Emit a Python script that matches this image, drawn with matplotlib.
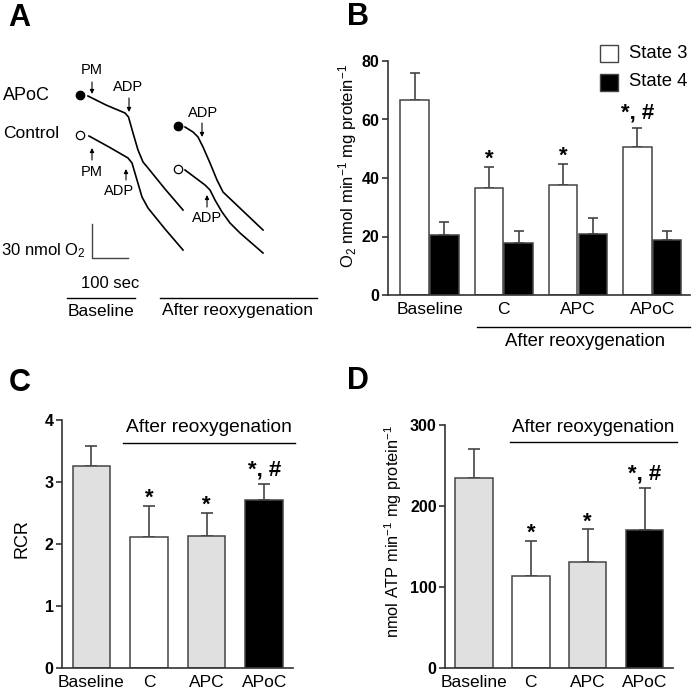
import numpy as np
import matplotlib
matplotlib.use('Agg')
import matplotlib.pyplot as plt
from matplotlib.patches import Rectangle

plt.rcParams['font.family'] = ['Liberation Sans', 'DejaVu Sans']
plt.rcParams['mathtext.fontset'] = 'custom'
plt.rcParams['mathtext.rm'] = 'Liberation Sans'
plt.rcParams['mathtext.it'] = 'Liberation Sans:italic'

W, H = 693, 699

# ---- data ----
groups = ['Baseline', 'C', 'APC', 'APoC']

# B: O2 consumption
state3 = [66.5, 36.7, 37.5, 50.7]
state3_err = [9.3, 7.2, 7.2, 6.5]
state4 = [20.5, 17.9, 20.7, 18.8]
state4_err = [4.6, 4.0, 5.5, 3.1]
sig_B = ['', '*', '*', '*, #']

# C: RCR
rcr = [3.26, 2.11, 2.13, 2.71]
rcr_err = [0.32, 0.50, 0.37, 0.25]

# D: ATP production
atp = [234, 113, 131, 170]
atp_err = [36, 44, 40, 52]
sig_CD = ['', '*', '*', '*, #']
colors_CD = ['#e0e0e0', 'white', '#e0e0e0', 'black']

# A: oxygraph traces (x = time, y = O2 downwards, plot units)
apoc_base_x = [88, 106, 125, 128.5, 133, 138, 143, 148, 165, 183]
apoc_base_y = [96, 105, 113, 117, 133, 150, 162, 168, 189, 210]
ctrl_base_x = [89, 109, 128, 132, 137, 142, 148, 165, 183]
ctrl_base_y = [136, 147, 158, 163, 180, 197, 208, 229, 250]
apoc_reox_x = [185, 193, 198, 203, 210, 217, 223, 243, 263]
apoc_reox_y = [127, 132, 137, 147, 163, 180, 192, 211, 230]
ctrl_reox_x = [185, 205, 210, 215, 222, 230, 240, 263]
ctrl_reox_y = [170, 185, 190, 200, 212, 223, 233, 253]


def px_axes(l, t, r, b):
    return fig.add_axes([l / W, 1 - b / H, (r - l) / W, (b - t) / H])


def style_axes(ax):
    for s in ['top', 'right']:
        ax.spines[s].set_visible(False)
    for s in ['left', 'bottom']:
        ax.spines[s].set_linewidth(1.2)
        ax.spines[s].set_color('#333333')
    ax.tick_params(axis='y', length=4, width=1.2, color='#333333', labelsize=11.5, pad=2)
    ax.tick_params(axis='x', length=0, labelsize=12.5, pad=5)
    for t in ax.get_yticklabels():
        t.set_fontweight('bold')


def add_sig(ax, xs, tops, labels):
    for x, t, s in zip(xs, tops, labels):
        if s:
            off = 10.5 if '#' in s else 5.5
            ax.annotate(s, (x, t), xytext=(0, off), textcoords='offset points',
                        ha='center', va='center', fontsize=16, fontweight='bold')


fig = plt.figure(figsize=(W / 100, H / 100), dpi=100)

# ---- panel A ----
axA = px_axes(0, 0, 345, 330)
axA.set_xlim(0, 345)
axA.set_ylim(330, 0)
axA.axis('off')
for xs, ys in [(apoc_base_x, apoc_base_y), (ctrl_base_x, ctrl_base_y),
               (apoc_reox_x, apoc_reox_y), (ctrl_reox_x, ctrl_reox_y)]:
    axA.plot(xs, ys, color='black', lw=1.2)
axA.plot([80, 178], [95, 126], 'o', color='black', ms=6)
axA.plot([80, 178], [135, 169], 'o', mfc='white', mec='black', mew=0.9, ms=6)
axA.text(3, 95, 'APoC', ha='left', va='center', fontsize=13)
axA.text(3, 133, 'Control', ha='left', va='center', fontsize=12.5)

arrows = [(92, 82, 94, 'PM', 92, 70), (129, 98, 112, 'ADP', 128, 87),
          (92, 160, 148, 'PM', 92, 172), (126, 180, 169, 'ADP', 119, 191),
          (202, 123, 137, 'ADP', 203, 113), (207, 207, 195, 'ADP', 207, 218)]
for x, tail, tip, lab, lx, ly in arrows:
    axA.annotate('', xy=(x, tip), xytext=(x, tail),
                 arrowprops=dict(arrowstyle='-|>', lw=0.8, color='black',
                                 mutation_scale=6, shrinkA=0, shrinkB=0))
    axA.text(lx, ly, lab, ha='center', va='center', fontsize=10.5)

# scale bar
axA.plot([92, 92, 128], [224, 258, 258], color='#444444', lw=1)
axA.text(86, 251, '30 nmol O$_2$', ha='right', va='center', fontsize=12)
axA.text(110, 283, '100 sec', ha='center', va='center', fontsize=12)
axA.plot([67, 135], [298, 298], color='black', lw=1)
axA.text(101, 311, 'Baseline', ha='center', va='center', fontsize=12.5)
axA.plot([160, 317], [298, 298], color='black', lw=1)
axA.text(238, 311, 'After reoxygenation', ha='center', va='center', fontsize=12.5)

# ---- panel B ----
axB = px_axes(388, 61, 690, 295)
x = np.arange(len(groups))
w = 0.385
axB.errorbar(x - 0.2, state3, yerr=[np.zeros(4), state3_err], fmt='none',
             ecolor='#444444', elinewidth=1.2, capsize=3.5, capthick=1.2, zorder=1)
axB.errorbar(x + 0.2, state4, yerr=[np.zeros(4), state4_err], fmt='none',
             ecolor='#444444', elinewidth=1.2, capsize=3.5, capthick=1.2, zorder=1)
axB.bar(x - 0.2, state3, w, color='white', edgecolor='#444444', lw=1.1, zorder=2)
axB.bar(x + 0.2, state4, w, color='black', edgecolor='#444444', lw=1.1, zorder=2)
axB.set_xlim(-0.56, 3.51)
axB.set_ylim(0, 80)
axB.set_yticks([0, 20, 40, 60, 80])
axB.set_xticks(x)
axB.set_xticklabels(groups)
axB.set_ylabel('O$_2$ nmol min$^{-1}$ mg protein$^{-1}$', fontsize=12)
axB.yaxis.set_label_coords((359 - 388) / 302, 0.55)
style_axes(axB)
add_sig(axB, x - 0.2, np.add(state3, state3_err), sig_B)

# ---- panel C ----
axC = px_axes(62, 420, 293, 668)
axC.errorbar(x, rcr, yerr=[np.zeros(4), rcr_err], fmt='none', ecolor='#444444',
             elinewidth=1.2, capsize=4, capthick=1.2, zorder=1)
axC.bar(x, rcr, 0.65, color=colors_CD, edgecolor='#444444', lw=1.1, zorder=2)
axC.set_xlim(-0.51, 3.5)
axC.set_ylim(0, 4)
axC.set_yticks([0, 1, 2, 3, 4])
axC.set_xticks(x)
axC.set_xticklabels(groups)
axC.set_ylabel('RCR', fontsize=13)
axC.yaxis.set_label_coords((31 - 62) / 231, 0.52)
style_axes(axC)
add_sig(axC, x, np.add(rcr, rcr_err), sig_CD)

# ---- panel D ----
axD = px_axes(445, 425, 673, 668)
axD.errorbar(x, atp, yerr=[np.zeros(4), atp_err], fmt='none', ecolor='#444444',
             elinewidth=1.2, capsize=4, capthick=1.2, zorder=1)
axD.bar(x, atp, 0.66, color=colors_CD, edgecolor='#444444', lw=1.1, zorder=2)
axD.set_xlim(-0.51, 3.5)
axD.set_ylim(0, 300)
axD.set_yticks([0, 100, 200, 300])
axD.set_xticks(x)
axD.set_xticklabels(groups)
axD.set_ylabel('nmol ATP min$^{-1}$ mg protein$^{-1}$', fontsize=11.8)
axD.yaxis.set_label_coords((404 - 445) / 228, 0.56)
style_axes(axD)
add_sig(axD, x, np.add(atp, atp_err), sig_CD)

# ---- overlay: panel letters, legend, group lines ----
ov = fig.add_axes([0, 0, 1, 1])
ov.set_xlim(0, W)
ov.set_ylim(H, 0)
ov.axis('off')
ov.patch.set_visible(False)
for lab, lx, ly in [('A', 19, 18), ('B', 358, 17), ('C', 20, 383), ('D', 358, 381)]:
    ov.text(lx, ly, lab, ha='center', va='center', fontsize=22, fontweight='bold')

for lab, fc, cy in [('State 3', 'white', 53), ('State 4', 'black', 82)]:
    ov.add_patch(Rectangle((600, cy - 8.5), 18, 17, facecolor=fc, edgecolor='#444444', lw=1))
    ov.text(629, cy, lab, ha='left', va='center', fontsize=13.3)

ov.plot([477, 690], [327, 327], color='black', lw=1)
ov.text(585, 341, 'After reoxygenation', ha='center', va='center', fontsize=13.3)
ov.plot([123, 295], [443, 443], color='black', lw=1)
ov.text(209, 428, 'After reoxygenation', ha='center', va='center', fontsize=13.8)
ov.plot([510, 677], [442, 442], color='black', lw=1)
ov.text(593, 428, 'After reoxygenation', ha='center', va='center', fontsize=13.5)

fig.savefig('out.png', dpi=100)
